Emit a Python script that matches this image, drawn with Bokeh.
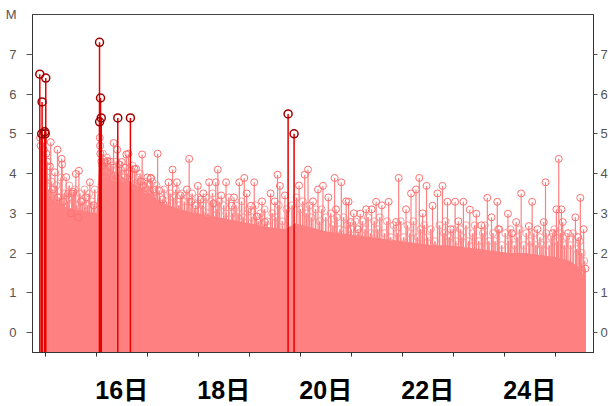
from bokeh.plotting import figure
from bokeh.models import FixedTicker, LinearAxis, Range1d
from bokeh.embed import file_html
from bokeh.resources import INLINE

# ---- data (day of month, magnitude) ----
big_t = [14.893, 14.93, 14.938, 14.99, 15.0, 15.01, 16.064, 16.084, 16.098, 16.066, 16.422, 16.67, 19.762, 19.879]
big_m = [6.5, 5.0, 5.8, 5.05, 5.0, 6.4, 7.3, 5.9, 5.4, 5.3, 5.4, 5.4, 5.5, 5.0]

small_t = [14.9, 14.91, 14.96, 14.97, 15.02, 15.04,
           15.107, 15.24, 15.32, 15.33, 15.09, 15.19, 15.41, 15.66, 15.6, 15.875, 15.55,
           15.15, 15.25, 15.35, 15.45, 15.7, 15.8, 15.95, 15.5, 15.65, 15.52,
           16.07, 16.075, 16.08, 16.1, 16.12,
           16.34, 16.41, 16.63, 16.22, 16.5, 16.78, 17.07, 16.92, 16.59, 16.9, 16.75, 17.0,
           16.56, 16.28, 16.18, 16.46, 16.87, 17.12,
           17.203, 17.822, 17.496, 18.383, 19.555, 18.902, 17.074, 18.213, 18.344, 18.545,
           18.805, 19.098, 17.418, 17.582, 19.6, 17.236, 17.777, 17.992, 19.418, 18.656,
           19.033, 17.861, 19.145, 19.307,
           17.65, 18.05, 18.1, 18.45, 18.7, 18.95, 19.25, 19.5, 17.3, 17.95, 18.3, 19.7,
           20.152, 20.088, 20.674, 20.805, 20.445, 20.348, 19.977, 21.93, 22.334, 22.477,
           22.27, 22.172, 22.691, 20.947, 21.488, 21.734, 21.293, 21.176, 22.074, 22.594,
           21.879, 20.986, 21.129,
           20.25, 20.55, 20.9, 21.4, 21.6, 21.05, 20.7, 22.4,
           25.068, 24.809, 22.789, 24.332, 23.668, 25.492, 23.863, 22.887, 23.037, 23.199,
           24.547, 23.324, 24.072, 23.453, 25.023, 25.121, 25.395, 24.234, 24.775, 24.482,
           25.557, 25.146, 25.59,
           23.1, 23.55, 23.9, 24.15, 24.65, 24.95, 25.25, 25.45, 23.75, 22.95]
small_m = [4.9, 4.7, 4.8, 4.6, 4.5, 4.3,
           4.79, 4.6, 4.37, 4.23, 4.18, 4.03, 3.91, 4.07, 3.99, 3.78, 3.54,
           3.6, 3.4, 3.3, 3.5, 3.3, 3.4, 3.2, 3.0, 2.9, 3.5,
           4.9, 4.7, 4.5, 4.3, 4.2,
           4.77, 4.6, 4.5, 4.32, 4.29, 4.12, 3.88, 3.7, 4.48, 4.48, 4.11, 3.9,
           4.15, 4.3, 4.28, 4.23, 3.8, 3.6,
           4.5, 4.37, 4.1, 4.1, 3.97, 3.89, 3.89, 3.78, 3.78, 3.78,
           3.78, 3.78, 3.78, 3.78, 3.69, 3.58, 3.6, 3.69, 3.5, 3.19,
           3.19, 3.29, 2.92, 2.78,
           3.45, 3.35, 3.5, 3.45, 3.4, 3.5, 3.3, 3.3, 3.35, 3.2, 3.25, 3.45,
           4.1, 3.97, 3.89, 3.78, 3.69, 3.6, 3.7, 3.89, 3.89, 3.69,
           3.6, 3.5, 3.5, 3.29, 3.29, 3.29, 3.1, 2.99, 3.1, 3.19,
           2.78, 2.78, 2.6,
           3.3, 3.4, 3.3, 3.1, 3.2, 3.0, 3.1, 3.0,
           4.37, 3.78, 3.69, 3.5, 3.39, 3.39, 3.29, 3.29, 3.29, 3.29,
           3.29, 3.09, 2.99, 2.99, 3.1, 3.1, 2.9, 2.78, 2.78, 2.68,
           2.6, 2.78, 1.61,
           2.8, 2.7, 2.6, 2.5, 2.6, 2.5, 2.5, 2.4, 2.9, 2.6]

# events in the ragged band just above the dense fill
mid_t = [15.03, 15.06, 15.12, 15.17, 15.22, 15.28, 15.31, 15.37, 15.43, 15.47, 15.53, 15.58,
         15.62, 15.68, 15.73, 15.77, 15.83, 15.86, 15.91, 15.97,
         16.13, 16.16, 16.21, 16.25, 16.31, 16.36, 16.39, 16.44, 16.48, 16.53, 16.61, 16.66,
         16.71, 16.74, 16.82, 16.86, 16.95, 16.98, 17.03, 17.1, 17.15, 17.18, 17.25,
         17.33, 17.38, 17.45, 17.52, 17.56, 17.62, 17.68, 17.73, 17.8, 17.88, 17.92, 18.0,
         18.08, 18.15, 18.19, 18.25, 18.28, 18.36, 18.41, 18.5, 18.55, 18.6, 18.67, 18.74,
         18.78, 18.85, 18.88, 18.98, 19.05, 19.12, 19.18, 19.22, 19.3, 19.35, 19.45, 19.52,
         19.58, 19.65, 19.73,
         19.84, 19.93, 20.0, 20.05, 20.12, 20.18, 20.22, 20.3, 20.38, 20.42, 20.5, 20.6,
         20.64, 20.72, 20.78, 20.85, 20.92, 21.0, 21.08, 21.15, 21.22, 21.27, 21.33, 21.38,
         21.45, 21.52, 21.56, 21.65, 21.7, 21.77, 21.83, 21.9, 21.97, 22.03, 22.1, 22.15,
         22.22, 22.3, 22.36, 22.43, 22.5, 22.56, 22.64,
         22.73, 22.82, 22.85, 22.92, 23.0, 23.05, 23.14, 23.17, 23.25, 23.3, 23.38, 23.42,
         23.5, 23.58, 23.62, 23.7, 23.78, 23.82, 23.88, 23.95, 24.02, 24.08, 24.12, 24.2,
         24.26, 24.3, 24.38, 24.43, 24.5, 24.58, 24.62, 24.7, 24.74, 24.82, 24.88, 24.92,
         24.98, 25.05, 25.1, 25.18, 25.22, 25.3, 25.35, 25.42, 25.48, 25.52, 25.57]
mid_m = [3.9, 3.6, 3.8, 3.5, 3.7, 3.4, 3.9, 3.5, 3.3, 3.7, 3.4, 3.6,
         3.2, 3.5, 3.3, 3.6, 3.2, 3.5, 3.3, 3.6,
         4.5, 4.0, 4.4, 4.1, 4.2, 3.9, 4.3, 4.0, 4.1, 3.9, 4.0, 3.8,
         4.2, 3.7, 3.9, 4.0, 3.8, 3.6, 3.7, 3.8, 3.5, 3.7, 3.4,
         3.6, 3.3, 3.5, 3.4, 3.6, 3.2, 3.5, 3.3, 3.4, 3.5, 3.1, 3.4,
         3.2, 3.4, 3.0, 3.3, 3.5, 3.1, 3.3, 3.2, 3.0, 3.4, 3.0, 3.2,
         3.0, 3.3, 2.9, 3.1, 2.9, 3.2, 2.8, 3.0, 3.1, 2.8, 3.0, 2.9,
         3.2, 2.8, 3.1,
         3.2, 3.4, 3.1, 3.3, 3.0, 3.2, 2.9, 3.1, 2.8, 3.1, 2.9, 3.0,
         2.7, 2.9, 2.6, 2.9, 2.7, 2.6, 2.8, 2.5, 2.8, 2.6, 2.9, 2.5,
         2.8, 2.6, 2.9, 2.5, 2.8, 2.4, 2.7, 2.5, 2.8, 2.4, 2.7, 2.5,
         2.8, 2.4, 2.6, 2.7, 2.4, 2.6, 2.3,
         2.7, 2.5, 2.8, 2.4, 2.6, 2.3, 2.6, 2.4, 2.7, 2.3, 2.5, 2.7,
         2.3, 2.5, 2.7, 2.3, 2.5, 2.3, 2.6, 2.2, 2.5, 2.3, 2.6, 2.2,
         2.4, 2.6, 2.2, 2.5, 2.3, 2.5, 2.2, 2.4, 2.2, 2.5, 2.2, 2.4,
         2.6, 2.3, 2.5, 2.2, 2.4, 2.2, 2.5, 2.1, 2.3, 2.0, 1.8]

# upper edge of the densely filled band of small events
fill_t = [14.89, 14.95, 15.0, 15.02, 15.2, 15.4, 15.6, 15.8, 16.0, 16.06, 16.2, 16.4,
          16.6, 16.8, 17.0, 17.2, 17.4, 17.8, 18.2, 18.6, 19.0, 19.4, 19.7, 19.9,
          20.2, 20.5, 20.8, 21.1, 21.4, 21.7, 22.0, 22.3, 22.6, 22.9, 23.2, 23.5,
          23.8, 24.1, 24.4, 24.7, 25.0, 25.3, 25.5, 25.59]
fill_top = [4.4, 4.6, 4.0, 3.5, 3.3, 3.15, 3.1, 3.05, 3.0, 4.4, 4.2, 4.0,
            3.85, 3.7, 3.55, 3.35, 3.2, 3.05, 2.95, 2.85, 2.75, 2.65, 2.6, 2.75,
            2.65, 2.55, 2.5, 2.45, 2.4, 2.35, 2.3, 2.25, 2.2, 2.2, 2.15, 2.1,
            2.05, 2.0, 2.0, 1.95, 1.9, 1.8, 1.6, 1.3]

x_ticks = [15, 16, 17, 18, 19, 20, 21, 22, 23, 24, 25]
x_label_pos = [16.5, 18.5, 20.5, 22.5, 24.5]
x_labels = ["16日", "18日", "20日", "22日", "24日"]
y_ticks = [0, 1, 2, 3, 4, 5, 6, 7]
y_label_pos = [0, 1, 2, 3, 4, 5, 6, 7, 8]
y_labels = ["0", "1", "2", "3", "4", "5", "6", "7", "M"]

PINK = "#ff8080"
BOTTOM = -0.5

p = figure(width=610, height=406, output_backend="svg", toolbar_location=None,
           x_range=Range1d(14.75, 25.75), y_range=Range1d(-0.5, 8),
           min_border_left=32, min_border_right=15, min_border_top=14, min_border_bottom=47)
p.xgrid.visible = False
p.ygrid.visible = False
p.outline_line_color = "#444444"
p.background_fill_color = "white"
p.border_fill_color = "white"

# dense band
p.varea(x=fill_t, y1=[BOTTOM] * len(fill_t), y2=fill_top, fill_color=PINK, fill_alpha=1.0)

# ragged band
p.segment(x0=mid_t, y0=[BOTTOM] * len(mid_t), x1=mid_t, y1=mid_m,
          line_color=PINK, line_width=1.6)
p.scatter(x=mid_t, y=mid_m, marker="circle", size=7, fill_color=None,
          line_color="#ff9a9a", line_width=1)

# individually visible small events
p.segment(x0=small_t, y0=[BOTTOM] * len(small_t), x1=small_t, y1=small_m,
          line_color=PINK, line_width=1.2)
p.scatter(x=small_t, y=small_m, marker="circle", size=7, fill_color=None,
          line_color="#ff7070", line_width=1)

# large events
p.segment(x0=big_t, y0=[BOTTOM] * len(big_t), x1=big_t, y1=big_m,
          line_color="#e80000", line_width=1.5)
p.scatter(x=big_t, y=big_m, marker="circle", size=8, fill_color=None,
          line_color="#a00000", line_width=1.5)

# x axis: tick marks at day boundaries, labels at mid-day
xa = p.xaxis[0]
xa.ticker = FixedTicker(ticks=x_label_pos, minor_ticks=x_ticks)
xa.major_label_overrides = {v: s for v, s in zip(x_label_pos, x_labels)}
xa.major_tick_out = 0
xa.major_tick_in = 0
xa.minor_tick_out = 4
xa.minor_tick_in = 0
xa.axis_line_color = "#333333"
xa.minor_tick_line_color = "#333333"
xa.major_label_text_font = "Liberation Sans, Noto Sans CJK JP"
xa.major_label_text_font_style = "bold"
xa.major_label_text_font_size = "25px"
xa.major_label_text_color = "black"
xa.major_label_standoff = 19

# left axis (labels 0..7 and "M" at top, tick marks only at 0..7)
ya = p.yaxis[0]
ya.ticker = FixedTicker(ticks=y_label_pos, minor_ticks=y_ticks)
ya.major_label_overrides = {v: s for v, s in zip(y_label_pos, y_labels)}
ya.major_tick_out = 0
ya.major_tick_in = 0
ya.minor_tick_out = 6
ya.minor_tick_in = 0
ya.axis_line_color = "#333333"
ya.minor_tick_line_color = "#555555"
ya.major_label_text_font = "Liberation Sans"
ya.major_label_text_font_size = "13px"
ya.major_label_text_color = "#555555"
ya.major_label_standoff = 10

# right axis
ra = LinearAxis(ticker=FixedTicker(ticks=y_ticks))
ra.major_tick_out = 4
ra.major_tick_in = 0
ra.minor_tick_out = 0
ra.minor_tick_in = 0
ra.axis_line_color = "#333333"
ra.major_tick_line_color = "#555555"
ra.major_label_text_font = "Liberation Sans"
ra.major_label_text_font_size = "13px"
ra.major_label_text_color = "#555555"
ra.major_label_standoff = 3
p.add_layout(ra, "right")

open("out.html", "w").write(file_html(p, INLINE))
